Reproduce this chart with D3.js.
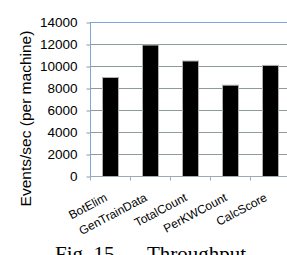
<!DOCTYPE html>
<html>
<head>
<meta charset="utf-8">
<script src="https://cdn.jsdelivr.net/npm/d3@7"></script>
<style>
  body { margin: 0; background: #fff; }
  svg { display: block; }
</style>
</head>
<body>
<div id="chart"></div>
<script>
var categories = ["BotElim", "GenTrainData", "TotalCount", "PerKWCount", "CalcScore"],
    values = [9000, 11950, 10500, 8300, 10100],
    yTicks = [0, 2000, 4000, 6000, 8000, 10000, 12000, 14000],
    yLabel = "Events/sec (per machine)",
    captionParts = ["Fig. 15.", "Throughput"];

var width = 287,
    height = 255,
    margin = { top: 22, bottom: 79, left: 90, right: -3 };

var svg = d3.select("#chart")
    .append("svg")
    .attr("width", width)
    .attr("height", height);

var x = d3.scaleBand()
    .domain(categories)
    .range([margin.left, width - margin.right])
    .paddingInner(0.6)
    .paddingOuter(0.3);

var y = d3.scaleLinear()
    .domain([0, 14000])
    .range([height - margin.bottom, margin.top]);

// gridlines
svg.append("g")
    .selectAll("line")
    .data(yTicks.slice(1, -1))
    .join("line")
    .attr("x1", margin.left)
    .attr("x2", width - margin.right)
    .attr("y1", function (d) { return y(d) + 0.5; })
    .attr("y2", function (d) { return y(d) + 0.5; })
    .attr("stroke", "#8c9c9c")
    .attr("stroke-width", 1);

// top border of plot area
svg.append("line")
    .attr("x1", margin.left)
    .attr("x2", width - margin.right)
    .attr("y1", y(14000) + 0.5)
    .attr("y2", y(14000) + 0.5)
    .attr("stroke", "#7ea4dc");

// bars
svg.append("g")
    .selectAll("rect")
    .data(values)
    .join("rect")
    .attr("x", function (d, i) { return x(categories[i]) + 0.5; })
    .attr("y", function (d) { return y(d) + 0.5; })
    .attr("width", x.bandwidth())
    .attr("height", function (d) { return y(0) - y(d); })
    .attr("fill", "#000")
    .attr("stroke", "#b0b0b0")
    .attr("stroke-width", 1);

// y axis
var yAxis = svg.append("g")
    .attr("transform", "translate(" + (margin.left + 0.5) + ",0.5)")
    .call(d3.axisLeft(y).tickValues(yTicks).tickSize(4).tickPadding(9).tickFormat(d3.format("d")));
yAxis.select(".domain").attr("stroke", "#7ea4dc").attr("d", "M0," + y(14000) + "V" + y(0));
yAxis.selectAll(".tick line").attr("stroke", "#8c9c9c");
yAxis.selectAll("text")
    .attr("fill", "#000")
    .style("font-family", "'Liberation Sans', Arial, sans-serif")
    .style("font-size", "13.5px");

// x axis
var xAxis = svg.append("g")
    .attr("transform", "translate(0," + (y(0) + 0.5) + ")");
xAxis.append("line")
    .attr("x1", margin.left)
    .attr("x2", width - margin.right)
    .attr("stroke", "#9aaabf");
xAxis.selectAll(".tk")
    .data(categories)
    .join("line")
    .attr("class", "tk")
    .attr("x1", function (d) { return Math.round(x(d) - x.bandwidth() * 0.75) + 0.5; })
    .attr("x2", function (d) { return Math.round(x(d) - x.bandwidth() * 0.75) + 0.5; })
    .attr("y1", 0)
    .attr("y2", 4)
    .attr("stroke", "#9aaabf");

svg.append("g")
    .selectAll("text")
    .data(categories)
    .join("text")
    .attr("transform", function (d) {
        return "translate(" + (x(d) + x.bandwidth() / 2 - 2) + "," + 200 + ") rotate(-28)";
    })
    .attr("text-anchor", "end")
    .style("font-family", "'Liberation Sans', Arial, sans-serif")
    .style("font-size", "12px")
    .text(function (d) { return d; });

// y label
svg.append("text")
    .attr("transform", "translate(31,118.5) rotate(-90)")
    .attr("text-anchor", "middle")
    .style("font-family", "'Liberation Sans', Arial, sans-serif")
    .style("font-size", "15.5px")
    .text(yLabel);

// caption, cut off by the bottom edge as in the source
svg.append("text")
    .attr("x", 55)
    .attr("y", 261)
    .style("font-family", "'Liberation Serif', 'Times New Roman', serif")
    .style("font-size", "21px")
    .text(captionParts[0]);
svg.append("text")
    .attr("x", 147)
    .attr("y", 261)
    .style("font-family", "'Liberation Serif', 'Times New Roman', serif")
    .style("font-size", "21px")
    .text(captionParts[1]);
</script>
</body>
</html>
